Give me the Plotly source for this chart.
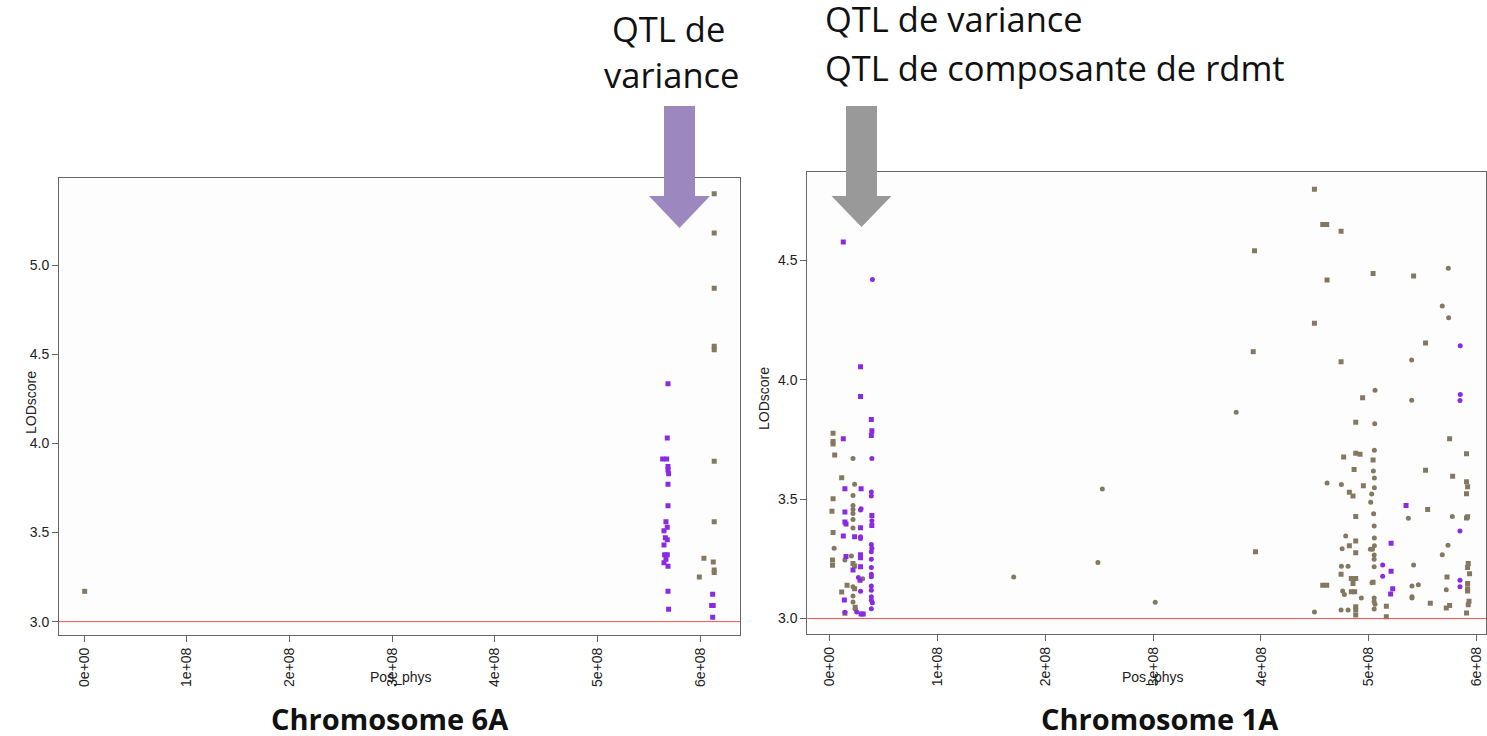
import plotly.graph_objects as go

W, H = 1487, 736

# ---- Chromosome 6A (positions in 1e8 bp, LOD scores) ----
c6_brown_sq_pos = [0.005, 6.135, 6.135, 6.135, 6.135, 6.135, 6.135, 6.135, 6.035, 6.126, 6.135, 6.135, 5.99]
c6_brown_sq_lod = [3.17, 5.40, 5.18, 4.87, 4.545, 4.525, 3.90, 3.56, 3.356, 3.335, 3.29, 3.275, 3.25]

c6_purple_sq_pos = [5.685, 5.678, 5.633, 5.672, 5.685, 5.685, 5.691, 5.685, 5.685, 5.665, 5.678, 5.646, 5.659,
                    5.678, 5.646, 5.652, 5.678, 5.665, 5.646, 5.685, 5.685, 5.691, 6.12, 6.11, 6.125, 6.12]
c6_purple_sq_lod = [4.335, 4.03, 3.912, 3.912, 3.87, 3.85, 3.83, 3.77, 3.65, 3.56, 3.53, 3.51, 3.47,
                    3.46, 3.43, 3.375, 3.375, 3.35, 3.33, 3.31, 3.17, 3.07, 3.154, 3.09, 3.09, 3.025]

# ---- Chromosome 1A ----
c1_purple_sq_pos = [0.125, 0.285, 0.285, 0.385, 0.39, 0.385, 0.125, 0.14, 0.29, 0.14, 0.14, 0.15, 0.39, 0.39,
                    0.125, 0.285, 0.23, 0.15, 0.285, 0.285, 0.215, 0.285, 0.28, 0.135, 0.29, 0.31,
                    5.346, 5.207, 5.207, 5.222, 5.203]
c1_purple_sq_lod = [4.578, 4.055, 3.93, 3.834, 3.787, 3.767, 3.753, 3.544, 3.544, 3.446, 3.404, 3.396, 3.432, 3.39,
                    3.346, 3.38, 3.343, 3.26, 3.267, 3.255, 3.203, 3.217, 3.16, 3.078, 3.019, 3.019,
                    3.474, 3.315, 3.198, 3.125, 3.103]

c1_purple_ci_pos = [0.395, 0.39, 0.385, 0.385, 0.29, 0.285, 0.39, 0.285, 0.285, 0.385, 0.39, 0.385, 0.385,
                    0.385, 0.385, 0.385, 0.265, 0.385, 0.285, 0.385, 0.385, 0.385, 0.395, 0.385, 0.14, 0.25,
                    5.849, 5.849, 5.846, 5.846, 5.846, 5.846, 5.129, 5.129]
c1_purple_ci_lod = [4.42, 3.671, 3.53, 3.513, 3.46, 3.455, 3.41, 3.343, 3.335, 3.31, 3.294, 3.28, 3.248,
                    3.214, 3.186, 3.175, 3.172, 3.136, 3.114, 3.119, 3.091, 3.077, 3.066, 3.041, 3.026, 3.027,
                    4.143, 3.939, 3.913, 3.367, 3.16, 3.133, 3.224, 3.177]

c1_brown_sq_pos = [0.03, 0.03, 0.03, 0.045, 0.11, 0.03, 0.02, 0.03, 0.025, 0.025, 0.215, 0.23, 0.16, 0.11,
                   0.23, 0.235, 0.14,
                   3.94, 3.928, 3.949,
                   4.496, 4.573, 4.61, 4.743, 4.613, 5.04, 5.416, 4.496, 4.743, 5.527, 4.943, 4.879, 5.75,
                   5.907, 4.767, 4.879, 4.919, 5.04, 4.864, 5.527, 5.778, 5.907, 5.917, 5.907, 4.95, 4.82,
                   4.854, 5.546, 4.879, 5.917, 5.907, 4.879, 4.82, 4.879, 5.923, 5.917, 4.743, 5.935, 4.838,
                   4.879, 4.854, 5.726, 4.573, 4.61, 4.838, 4.869, 5.917, 5.917, 5.917, 4.879, 4.879, 4.879,
                   5.163, 5.163, 5.571, 5.75, 5.719, 5.93, 5.923, 5.907, 5.04]
c1_brown_sq_lod = [3.776, 3.742, 3.731, 3.685, 3.59, 3.502, 3.449, 3.361, 3.245, 3.223, 3.231, 3.22, 3.14, 3.111,
                   3.125, 3.047, 3.022,
                   4.541, 4.118, 3.28,
                   4.799, 4.651, 4.651, 4.623, 4.418, 4.445, 4.435, 4.237, 4.076, 4.154, 3.925, 3.822, 3.753,
                   3.69, 3.677, 3.693, 3.688, 3.664, 3.624, 3.621, 3.596, 3.573, 3.552, 3.523, 3.556, 3.529,
                   3.513, 3.457, 3.428, 3.426, 3.421, 3.325, 3.305, 3.276, 3.231, 3.214, 3.186, 3.188, 3.168,
                   3.168, 3.147, 3.174, 3.139, 3.139, 3.112, 3.112, 3.147, 3.125, 3.115, 3.049, 3.036, 3.015,
                   3.052, 3.008, 3.064, 3.055, 3.044, 3.072, 3.058, 3.023, 3.152]

c1_brown_ci_pos = [0.215, 0.23, 0.215, 0.215, 0.215, 0.215, 0.215, 0.215, 0.04, 0.14, 0.2, 0.305, 0.215,
                   0.215, 0.215, 0.235,
                   1.706, 2.528, 2.487, 3.019, 3.77,
                   5.738, 5.682, 5.741, 5.398, 5.058, 5.398, 5.055, 5.052, 5.043, 5.052, 5.052, 5.027, 5.018,
                   4.613, 4.746, 5.045, 5.05, 5.052, 5.367, 5.775, 4.786, 4.753, 5.015, 5.035, 5.052, 5.05,
                   5.05, 5.05, 5.735, 5.682, 4.746, 4.808, 5.416, 5.03, 4.758, 4.774, 4.931, 5.05, 5.05,
                   5.058, 5.05, 5.401, 5.46, 5.401, 5.401, 5.719, 4.743, 4.808, 4.496]
c1_brown_ci_lod = [3.671, 3.563, 3.516, 3.474, 3.457, 3.44, 3.415, 3.379, 3.294, 3.245, 3.262, 3.167, 3.133,
                   3.094, 3.069, 3.04,
                   3.174, 3.543, 3.235, 3.068, 3.864,
                   4.468, 4.309, 4.26, 4.083, 3.956, 3.915, 3.816, 3.705, 3.618, 3.589, 3.548, 3.522, 3.487,
                   3.568, 3.562, 3.439, 3.388, 3.337, 3.42, 3.428, 3.346, 3.292, 3.29, 3.29, 3.305, 3.266,
                   3.248, 3.217, 3.307, 3.267, 3.219, 3.219, 3.224, 3.15, 3.115, 3.101, 3.086, 3.086, 3.07,
                   3.06, 3.04, 3.136, 3.142, 3.091, 3.086, 3.121, 3.036, 3.036, 3.027]

x_tickvals = [0, 1, 2, 3, 4, 5, 6]
x_ticktext = ['0e+00', '1e+08', '2e+08', '3e+08', '4e+08', '5e+08', '6e+08']
y6_ticks = [3.0, 3.5, 4.0, 4.5, 5.0]
y1_ticks = [3.0, 3.5, 4.0, 4.5]

BROWN = '#857860'
PURPLE = '#8a2be2'


def px(x):
    return x / W


def py(y):
    return 1 - y / H


fig = go.Figure()


def add_points(pos, lod, color, symbol, xa, ya):
    fig.add_trace(go.Scatter(
        x=[p * 1e8 for p in pos], y=lod, mode='markers',
        marker=dict(color=color, symbol=symbol, size=5, line=dict(width=0)),
        xaxis=xa, yaxis=ya, showlegend=False, hoverinfo='skip'))


add_points(c6_brown_sq_pos, c6_brown_sq_lod, BROWN, 'square', 'x', 'y')
add_points(c6_purple_sq_pos, c6_purple_sq_lod, PURPLE, 'square', 'x', 'y')

add_points(c1_brown_sq_pos, c1_brown_sq_lod, BROWN, 'square', 'x2', 'y2')
add_points(c1_brown_ci_pos, c1_brown_ci_lod, BROWN, 'circle', 'x2', 'y2')
add_points(c1_purple_sq_pos, c1_purple_sq_lod, PURPLE, 'square', 'x2', 'y2')
add_points(c1_purple_ci_pos, c1_purple_ci_lod, PURPLE, 'circle', 'x2', 'y2')

axis_style = dict(showline=True, linecolor='#666', linewidth=1, mirror=True, ticks='outside', ticklen=6,
                  tickcolor='#666', showgrid=False, zeroline=False,
                  tickfont=dict(family='Liberation Sans', size=14, color='#222'))

fig.update_layout(
    width=W, height=H, margin=dict(l=0, r=0, t=0, b=0),
    paper_bgcolor='white', plot_bgcolor='#fdfdfd',
    xaxis=dict(domain=[px(59), px(740.3)], range=[-0.245e8, 6.389e8], anchor='y',
               tickvals=[v * 1e8 for v in x_tickvals], ticktext=x_ticktext, tickangle=-90, **axis_style),
    yaxis=dict(domain=[py(635), py(178.3)], range=[2.925, 5.487], anchor='x',
               tickvals=y6_ticks, ticktext=['%.1f' % v for v in y6_ticks], **axis_style),
    xaxis2=dict(domain=[px(807.3), 0.9995], range=[-0.209e8, 6.09e8], anchor='y2',
                tickvals=[v * 1e8 for v in x_tickvals], ticktext=x_ticktext, tickangle=-90, **axis_style),
    yaxis2=dict(domain=[py(634.3), py(171.7)], range=[2.934, 4.872], anchor='x2',
                tickvals=y1_ticks, ticktext=['%.1f' % v for v in y1_ticks], **axis_style),
)

# threshold lines at LOD = 3
for xr, yr in [('x domain', 'y'), ('x2 domain', 'y2')]:
    fig.add_shape(type='line', xref=xr, yref=yr, x0=0, x1=1, y0=3, y1=3,
                  line=dict(color='#ee5555', width=1))


def arrow_path(cx, top, shaft_half, head_half, head_y, tip_y):
    pts = [(cx - shaft_half, top), (cx + shaft_half, top), (cx + shaft_half, head_y), (cx + head_half, head_y),
           (cx, tip_y), (cx - head_half, head_y), (cx - shaft_half, head_y)]
    return 'M ' + ' L '.join('%.5f,%.5f' % (px(x), py(y)) for x, y in pts) + ' Z'


fig.add_shape(type='path', xref='paper', yref='paper', path=arrow_path(679.5, 106, 15.5, 30.5, 196, 228),
              fillcolor='#9d87bf', line=dict(width=0))
fig.add_shape(type='path', xref='paper', yref='paper', path=arrow_path(861.5, 106, 15.5, 30, 196, 227),
              fillcolor='#999999', line=dict(width=0))

big = dict(family='Open Sans', size=34.5, color='#111')
title_font = dict(family='Open Sans', size=29, color='#111')
small = dict(family='Liberation Sans', size=14, color='#222')
ann = [
    dict(x=px(668), y=py(28), text='QTL de', font=big, xanchor='center', yanchor='middle'),
    dict(x=px(671), y=py(74), text='variance', font=big, xanchor='center', yanchor='middle'),
    dict(x=px(823), y=py(19), text='QTL de variance', font=big, xanchor='left', yanchor='middle'),
    dict(x=px(823), y=py(67), text='QTL de composante de rdmt', font=big, xanchor='left', yanchor='middle'),
    dict(x=px(390), y=py(718), text='<b>Chromosome 6A</b>', font=title_font, xanchor='center', yanchor='middle'),
    dict(x=px(1160), y=py(718), text='<b>Chromosome 1A</b>', font=title_font, xanchor='center', yanchor='middle'),
    dict(x=px(400), y=py(677), text='Pos_phys', font=small, xanchor='center', yanchor='middle'),
    dict(x=px(1152), y=py(677), text='Pos_phys', font=small, xanchor='center', yanchor='middle'),
    dict(x=px(31), y=py(403), text='LODscore', textangle=-90, font=small, xanchor='center', yanchor='middle'),
    dict(x=px(764), y=py(398), text='LODscore', textangle=-90, font=small, xanchor='center', yanchor='middle'),
]
for a in ann:
    a.update(xref='paper', yref='paper', showarrow=False)
fig.update_layout(annotations=ann)

# remove the default page margin so the figure sits at the window's top-left corner
fig.write_html('out.html', config={'displayModeBar': False},
               post_script="document.body.style.margin='0';")
